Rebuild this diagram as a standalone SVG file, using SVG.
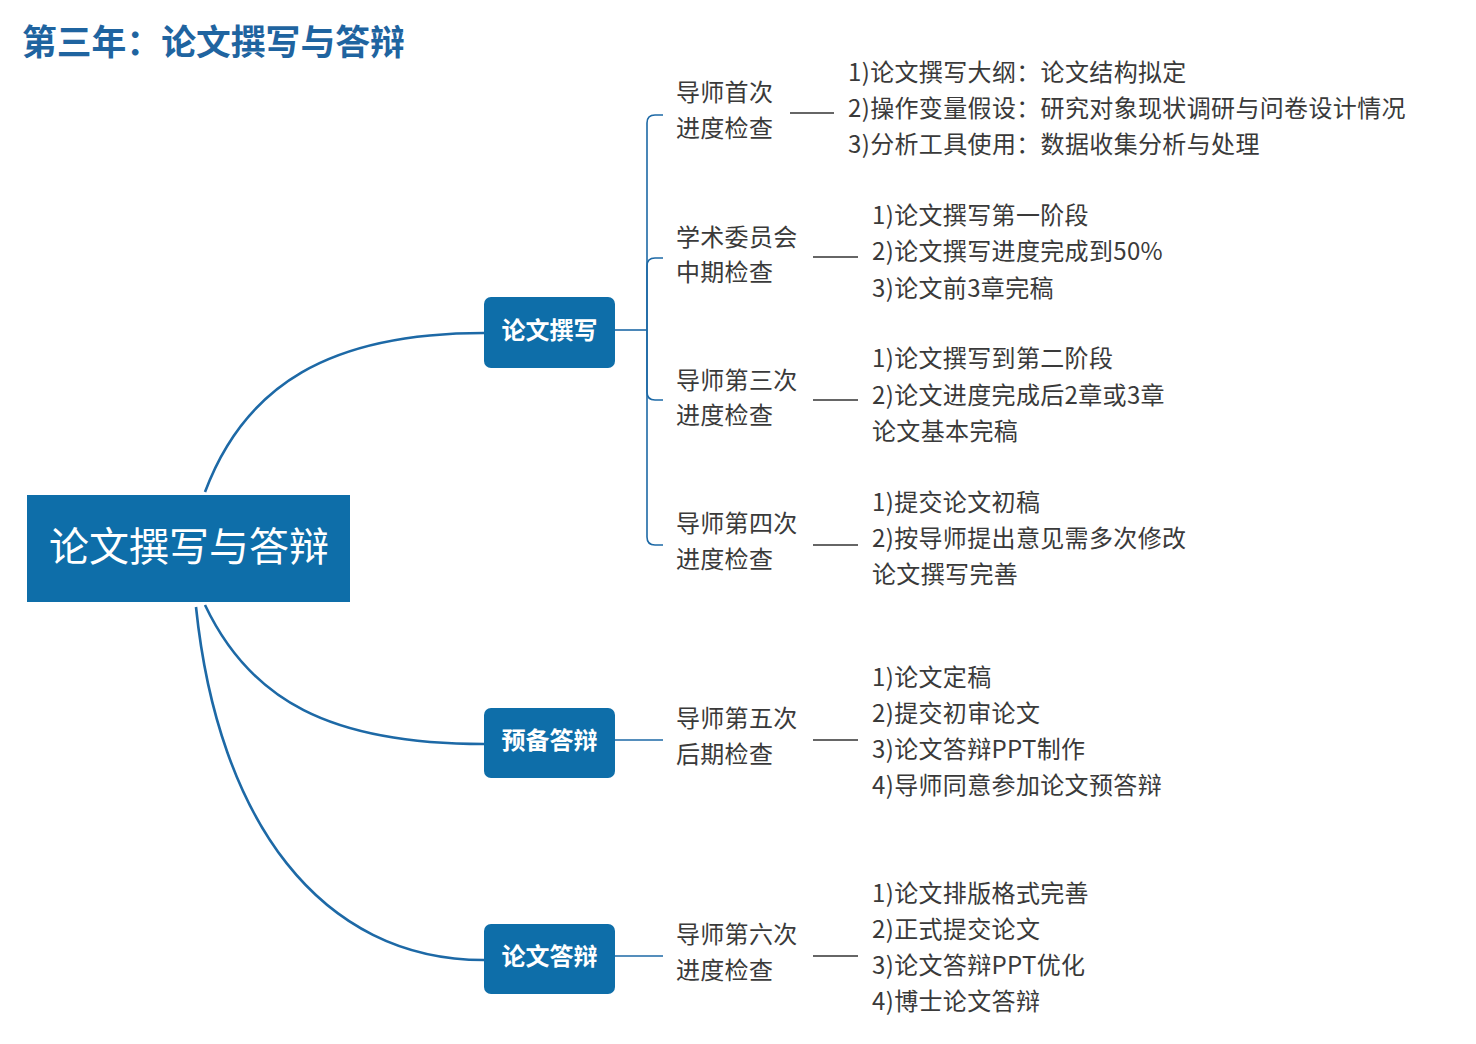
<svg xmlns="http://www.w3.org/2000/svg" width="1476" height="1044" viewBox="0 0 1476 1044">
<style>
.bg{fill:#ffffff}
.title{font-family:"Noto Sans CJK SC","Liberation Sans",sans-serif;font-size:34.8px;font-weight:700;fill:#1f64a0}
.root{fill:#0e6ea9}
.roott{font-family:"Noto Sans CJK SC","Liberation Sans",sans-serif;font-size:40px;fill:#ffffff}
.br{fill:#0e6ea9}
.brt{font-family:"Noto Sans CJK SC","Liberation Sans",sans-serif;font-size:24px;font-weight:700;fill:#ffffff}
.sub{font-family:"Noto Sans CJK SC","Liberation Sans",sans-serif;font-size:24px;fill:#3a3a3a;letter-spacing:0.3px}
.det{font-family:"Noto Sans CJK SC","Liberation Sans",sans-serif;font-size:24px;fill:#3a3a3a;letter-spacing:0.35px}
.c{fill:none;stroke:#1d69a6;stroke-width:2.6}
.b{fill:none;stroke:#1d69a6;stroke-width:1.6}
.d{fill:none;stroke:#333333;stroke-width:1.6}
</style>
<rect class="bg" x="0" y="0" width="1476" height="1044"/>
<text class="title" x="22" y="55">第三年：论文撰写与答辩</text>
<g id="connectors">
<path class="c" d="M205,492 C245,385 330,333 484,333"/>
<path class="c" d="M205,605 C250,700 330,744 484,744"/>
<path class="c" d="M196,607 C218,820 320,960 484,960"/>
<path class="b" d="M615,330 H647"/>
<path class="b" d="M647,330 V123 Q647,115 655,115 H663"/>
<path class="b" d="M647,330 V266 Q647,258 655,258 H663"/>
<path class="b" d="M647,330 V392 Q647,400 655,400 H663"/>
<path class="b" d="M647,330 V537 Q647,545 655,545 H663"/>
<path class="b" d="M615,740 H663"/>
<path class="b" d="M615,956 H663"/>
<path class="d" d="M790,113 H834"/>
<path class="d" d="M813,257 H858"/>
<path class="d" d="M813,400 H858"/>
<path class="d" d="M813,545 H858"/>
<path class="d" d="M813,740 H858"/>
<path class="d" d="M813,956 H858"/>
</g>
<g id="root">
<rect class="root" x="27" y="495" width="323" height="107"/>
<text class="roott" x="189" y="561" text-anchor="middle">论文撰写与答辩</text>
</g>
<g id="b1">
<rect class="br" x="484" y="297" width="131" height="71" rx="7"/>
<text class="brt" x="549.5" y="339" text-anchor="middle">论文撰写</text>
</g>
<g id="b2">
<rect class="br" x="484" y="708" width="131" height="70" rx="7"/>
<text class="brt" x="549.5" y="749" text-anchor="middle">预备答辩</text>
</g>
<g id="b3">
<rect class="br" x="484" y="924" width="131" height="70" rx="7"/>
<text class="brt" x="549.5" y="965" text-anchor="middle">论文答辩</text>
</g>
<g id="s1">
<text class="sub" x="676" y="101">导师首次</text>
<text class="sub" x="676" y="137">进度检查</text>
</g>
<g id="d1">
<text class="det" x="848" y="81">1)论文撰写大纲：论文结构拟定</text>
<text class="det" x="848" y="117">2)操作变量假设：研究对象现状调研与问卷设计情况</text>
<text class="det" x="848" y="153">3)分析工具使用：数据收集分析与处理</text>
</g>
<g id="s2">
<text class="sub" x="676" y="246">学术委员会</text>
<text class="sub" x="676" y="281">中期检查</text>
</g>
<g id="d2">
<text class="det" x="872" y="224">1)论文撰写第一阶段</text>
<text class="det" x="872" y="260">2)论文撰写进度完成到50%</text>
<text class="det" x="872" y="297">3)论文前3章完稿</text>
</g>
<g id="s3">
<text class="sub" x="676" y="389">导师第三次</text>
<text class="sub" x="676" y="424">进度检查</text>
</g>
<g id="d3">
<text class="det" x="872" y="367">1)论文撰写到第二阶段</text>
<text class="det" x="872" y="404">2)论文进度完成后2章或3章</text>
<text class="det" x="872" y="440">论文基本完稿</text>
</g>
<g id="s4">
<text class="sub" x="676" y="532">导师第四次</text>
<text class="sub" x="676" y="568">进度检查</text>
</g>
<g id="d4">
<text class="det" x="872" y="511">1)提交论文初稿</text>
<text class="det" x="872" y="547">2)按导师提出意见需多次修改</text>
<text class="det" x="872" y="583">论文撰写完善</text>
</g>
<g id="s5">
<text class="sub" x="676" y="727">导师第五次</text>
<text class="sub" x="676" y="763">后期检查</text>
</g>
<g id="d5">
<text class="det" x="872" y="686">1)论文定稿</text>
<text class="det" x="872" y="722">2)提交初审论文</text>
<text class="det" x="872" y="758">3)论文答辩PPT制作</text>
<text class="det" x="872" y="794">4)导师同意参加论文预答辩</text>
</g>
<g id="s6">
<text class="sub" x="676" y="943">导师第六次</text>
<text class="sub" x="676" y="979">进度检查</text>
</g>
<g id="d6">
<text class="det" x="872" y="902">1)论文排版格式完善</text>
<text class="det" x="872" y="938">2)正式提交论文</text>
<text class="det" x="872" y="974">3)论文答辩PPT优化</text>
<text class="det" x="872" y="1010">4)博士论文答辩</text>
</g>
</svg>
